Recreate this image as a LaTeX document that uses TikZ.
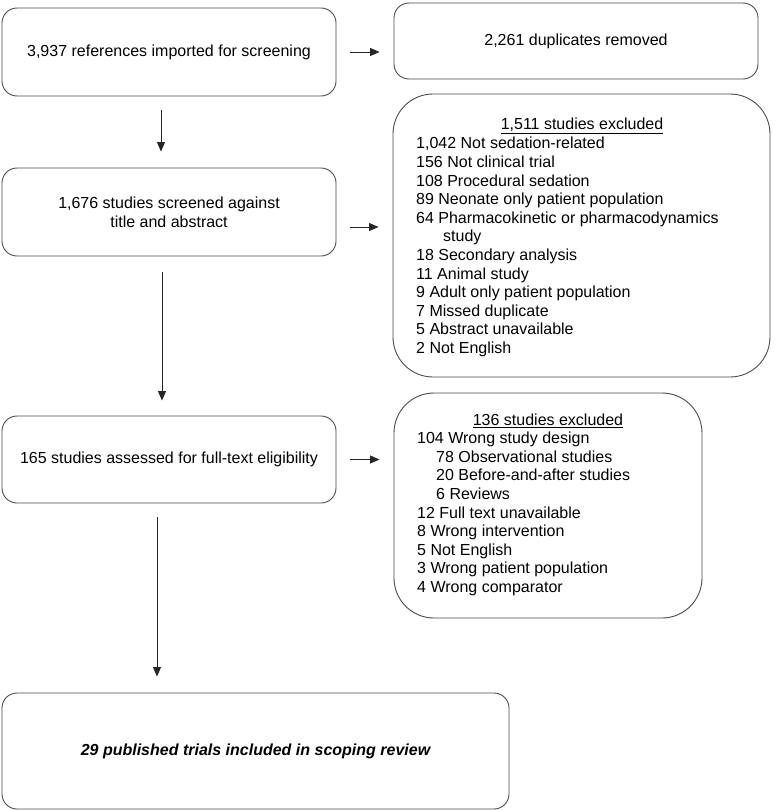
\documentclass[tikz,border=0pt]{standalone}
\usepackage{fontspec}
\setmainfont{Liberation Sans}
\usetikzlibrary{arrows.meta}
\begin{document}
\begin{tikzpicture}[x=1pt,y=-1pt,
  every node/.style={font=\fontsize{16}{18.6}\selectfont, text=black},
  box/.style={draw=black!70, line width=0.9pt, rounded corners=15pt, inner sep=0pt, align=center},
  bigbox/.style={draw=black!70, line width=0.9pt, rounded corners=40pt, inner sep=0pt},
  listtext/.style={inner sep=0pt, align=left, anchor=west},
  arr/.style={draw=black!85, line width=0.9pt, -{Triangle[length=9.5pt,width=8pt]}}]
\useasboundingbox (0,0) rectangle (775,811);
\fill[white] (0,0) rectangle (775,811);

\node[box, minimum width=334pt, minimum height=88pt] (b1) at (169,52) {3,937 references imported for screening};
\node[box, minimum width=364pt, minimum height=76pt] (dup) at (576,41) {2,261 duplicates removed};
\node[box, minimum width=334pt, minimum height=88pt] (b2) at (169,212) {1,676 studies screened against\\title and abstract};
\node[bigbox, minimum width=377pt, minimum height=283pt] (e1) at (581.5,235.5) {};
\node[box, minimum width=334pt, minimum height=87pt] (b3) at (169,459.5) {165 studies assessed for full-text eligibility};
\node[bigbox, minimum width=308pt, minimum height=225pt] (e2) at (548,505.5) {};
\node[box, minimum width=507pt, minimum height=116pt] (fin) at (255.5,751) {\bfseries\itshape 29 published trials included in scoping review};

\node[inner sep=0pt] (t1) at (582,126) {\underline{1,511 studies excluded}};
\node[listtext] (l1) at (416,247) {1,042 Not sedation-related\\
156 Not clinical trial\\
108 Procedural sedation\\
89 Neonate only patient population\\
64 Pharmacokinetic or pharmacodynamics\\
\hspace*{27pt}study\\
18 Secondary analysis\\
11 Animal study\\
9 Adult only patient population\\
7 Missed duplicate\\
5 Abstract unavailable\\
2 Not English};

\node[inner sep=0pt] (t2) at (548,421) {\underline{136 studies excluded}};
\node[listtext] (l2) at (417,514) {104 Wrong study design\\
\hspace*{19pt}78 Observational studies\\
\hspace*{19pt}20 Before-and-after studies\\
\hspace*{19pt}6 Reviews\\
12 Full text unavailable\\
8 Wrong intervention\\
5 Not English\\
3 Wrong patient population\\
4 Wrong comparator};

\draw[arr] ([xshift=14pt]b1.east) -- ([xshift=-14pt]b1.east -| dup.west);
\draw[arr] ([xshift=14pt,yshift=-15pt]b2.east) -- ([xshift=-14pt,yshift=-15pt]b2.east -| e1.west);
\draw[arr] ([xshift=14pt]b3.east) -- ([xshift=-14pt]b3.east -| e2.west);

\draw[arr] ([xshift=-8pt,yshift=-14pt]b1.south) -- ([xshift=-8pt,yshift=16pt]b2.north);
\draw[arr] ([xshift=-7pt,yshift=-16pt]b2.south) -- ([xshift=-7pt,yshift=15pt]b3.north);
\draw[arr] ([xshift=-12pt,yshift=-14pt]b3.south) -- ([xshift=-12pt,yshift=16pt]b3.south |- fin.north);
\end{tikzpicture}
\end{document}
